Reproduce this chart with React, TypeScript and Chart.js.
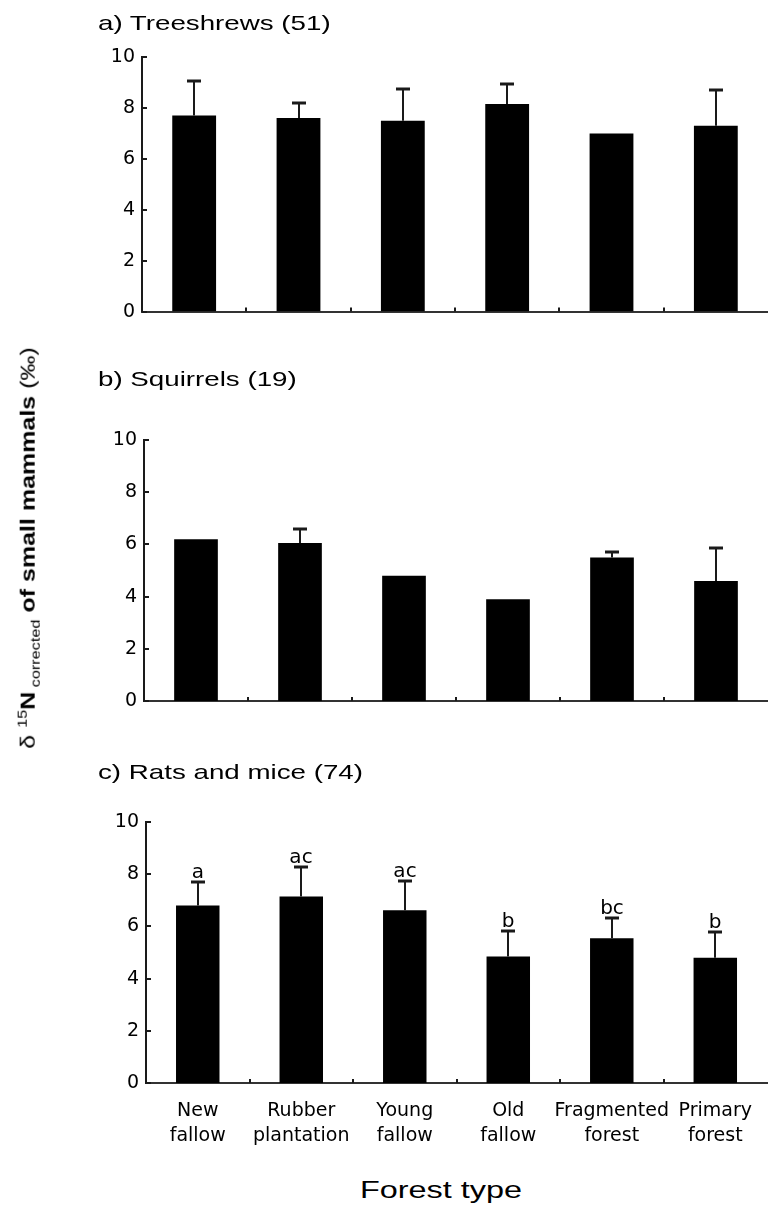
import React, { useEffect, useRef } from "react";
import { Chart, registerables } from "chart.js";

Chart.register(...registerables);

// ---------- data ----------
const categories: string[][] = [
  ["New", "fallow"],
  ["Rubber", "plantation"],
  ["Young", "fallow"],
  ["Old", "fallow"],
  ["Fragmented", "forest"],
  ["Primary", "forest"],
];
const yTickValues = [0, 2, 4, 6, 8, 10];

const treeshrewMeans = [7.7, 7.6, 7.5, 8.15, 7.0, 7.3];
const treeshrewSD: (number | null)[] = [1.35, 0.6, 1.25, 0.8, null, 1.4];

const squirrelMeans = [6.2, 6.05, 4.8, 3.9, 5.5, 4.6];
const squirrelSD: (number | null)[] = [null, 0.55, null, null, 0.2, 1.25];

const ratMeans = [6.8, 7.15, 6.62, 4.85, 5.55, 4.8];
const ratSD: (number | null)[] = [0.9, 1.13, 1.12, 0.97, 0.77, 0.99];
const ratLetters = ["a", "ac", "ac", "b", "bc", "b"];

const panelTitles = ["a) Treeshrews (51)", "b) Squirrels (19)", "c) Rats and mice (74)"];
const xAxisTitle = "Forest type";

const TICK_FONT = '"DejaVu Sans", "Liberation Sans", Arial, sans-serif';

type PanelProps = {
  means: number[];
  sds: (number | null)[];
  letters?: string[];
  showLabels: boolean;
  top: number;
  height: number;
  padTop: number;
  xAxisHeight: number;
  yAxisWidth: number;
};

function Panel(p: PanelProps) {
  const ref = useRef<HTMLCanvasElement | null>(null);
  useEffect(() => {
    if (!ref.current) return;
    const overlay = {
      id: "overlay",
      afterDatasetsDraw(chart: any) {
        const { ctx, chartArea } = chart;
        const x = chart.scales.x;
        const y = chart.scales.y;
        ctx.save();
        ctx.strokeStyle = "#1a1a1a";
        ctx.lineWidth = 2;
        // inward y ticks
        yTickValues.forEach((v) => {
          const py = Math.round(y.getPixelForValue(v));
          ctx.beginPath();
          ctx.moveTo(chartArea.left, py);
          ctx.lineTo(chartArea.left + 5, py);
          ctx.stroke();
        });
        // inward x ticks between categories
        for (let i = 0; i < categories.length - 1; i++) {
          const px = Math.round((x.getPixelForValue(i) + x.getPixelForValue(i + 1)) / 2);
          ctx.beginPath();
          ctx.moveTo(px, chartArea.bottom);
          ctx.lineTo(px, chartArea.bottom - 4);
          ctx.stroke();
        }
        // error bars
        p.means.forEach((m, i) => {
          const sd = p.sds[i];
          const px = Math.round(x.getPixelForValue(i));
          const y0 = y.getPixelForValue(m);
          let yTop = y0;
          if (sd != null) {
            yTop = y.getPixelForValue(m + sd);
            ctx.beginPath();
            ctx.moveTo(px, y0);
            ctx.lineTo(px, yTop);
            ctx.stroke();
            ctx.lineWidth = 3;
            ctx.beginPath();
            ctx.moveTo(px - 7, Math.round(yTop));
            ctx.lineTo(px + 7, Math.round(yTop));
            ctx.stroke();
            ctx.lineWidth = 2;
          }
          if (p.letters) {
            ctx.fillStyle = "#000";
            ctx.font = `20px ${TICK_FONT}`;
            ctx.textAlign = "center";
            ctx.textBaseline = "alphabetic";
            ctx.fillText(p.letters[i], px, yTop - 4);
          }
        });
        ctx.restore();
      },
    };
    const chart = new Chart(ref.current, {
      type: "bar",
      data: {
        labels: categories,
        datasets: [
          {
            data: p.means,
            backgroundColor: "#000",
            borderWidth: 0,
            barPercentage: 0.42,
            categoryPercentage: 1,
          },
        ],
      },
      options: {
        animation: false,
        responsive: false,
        maintainAspectRatio: false,
        layout: { padding: { top: p.padTop, left: 0, right: 0, bottom: 0 } },
        plugins: {
          legend: { display: false },
          tooltip: { enabled: false },
          title: { display: false },
        },
        scales: {
          x: {
            grid: { display: false, drawTicks: false },
            border: { display: true, color: "#333", width: 2 },
            ticks: {
              display: p.showLabels,
              color: "#000",
              padding: 16,
              maxRotation: 0,
              autoSkip: false,
              font: { family: TICK_FONT, size: 19, lineHeight: "25px" },
            },
            afterFit: (s: any) => {
              s.height = p.xAxisHeight;
            },
          },
          y: {
            min: 0,
            max: 10,
            grid: { display: false, drawTicks: false },
            border: { display: true, color: "#1a1a1a", width: 2 },
            ticks: {
              stepSize: 2,
              padding: 7,
              color: "#000",
              font: { family: TICK_FONT, size: 19 },
            },
            afterFit: (s: any) => {
              s.width = p.yAxisWidth;
            },
          },
        },
      } as any,
      plugins: [overlay],
    });
    return () => chart.destroy();
  }, []);
  return (
    <canvas
      ref={ref}
      width={768}
      height={p.height}
      style={{ position: "absolute", left: 0, top: p.top, width: 768, height: p.height, display: "block" }}
    />
  );
}

const titleStyle = (top: number): React.CSSProperties => ({
  position: "absolute",
  left: 98,
  top,
  fontSize: 21,
  lineHeight: "21px",
  whiteSpace: "nowrap",
  transform: "scaleX(1.32)",
  transformOrigin: "left center",
  color: "#000",
});

export default function App() {
  return (
    <div
      style={{
        position: "absolute",
        left: 0,
        top: 0,
        width: 768,
        height: 1218,
        overflow: "hidden",
        background: "#fff",
        fontFamily: '"Liberation Sans", Arial, sans-serif',
      }}
    >
      <Panel means={treeshrewMeans} sds={treeshrewSD} showLabels={false} top={0} height={330} padTop={57} xAxisHeight={18} yAxisWidth={142} />
      <Panel means={squirrelMeans} sds={squirrelSD} showLabels={false} top={380} height={340} padTop={60} xAxisHeight={19} yAxisWidth={144} />
      <Panel means={ratMeans} sds={ratSD} letters={ratLetters} showLabels={true} top={760} height={400} padTop={62} xAxisHeight={77} yAxisWidth={146} />

      <div style={titleStyle(12)}>{panelTitles[0]}</div>
      <div style={titleStyle(368)}>{panelTitles[1]}</div>
      <div style={titleStyle(761)}>{panelTitles[2]}</div>

      <div
        style={{
          position: "absolute",
          left: 29,
          top: 548,
          whiteSpace: "nowrap",
          fontSize: 20,
          lineHeight: "24px",
          color: "#000",
          transform: "translate(-50%, -50%) rotate(-90deg) scaleX(1.25)",
        }}
      >
        <span>δ </span>
        <sup style={{ fontSize: 13 }}>15</sup>
        <b>N</b>
        <sub style={{ fontSize: 13 }}> corrected</sub>
        <b> of small mammals </b>
        <span>(‰)</span>
      </div>

      <div
        style={{
          position: "absolute",
          left: 441,
          top: 1176,
          whiteSpace: "nowrap",
          fontSize: 24,
          lineHeight: "28px",
          color: "#000",
          transform: "translateX(-50%) scaleX(1.35)",
        }}
      >
        {xAxisTitle}
      </div>
    </div>
  );
}
